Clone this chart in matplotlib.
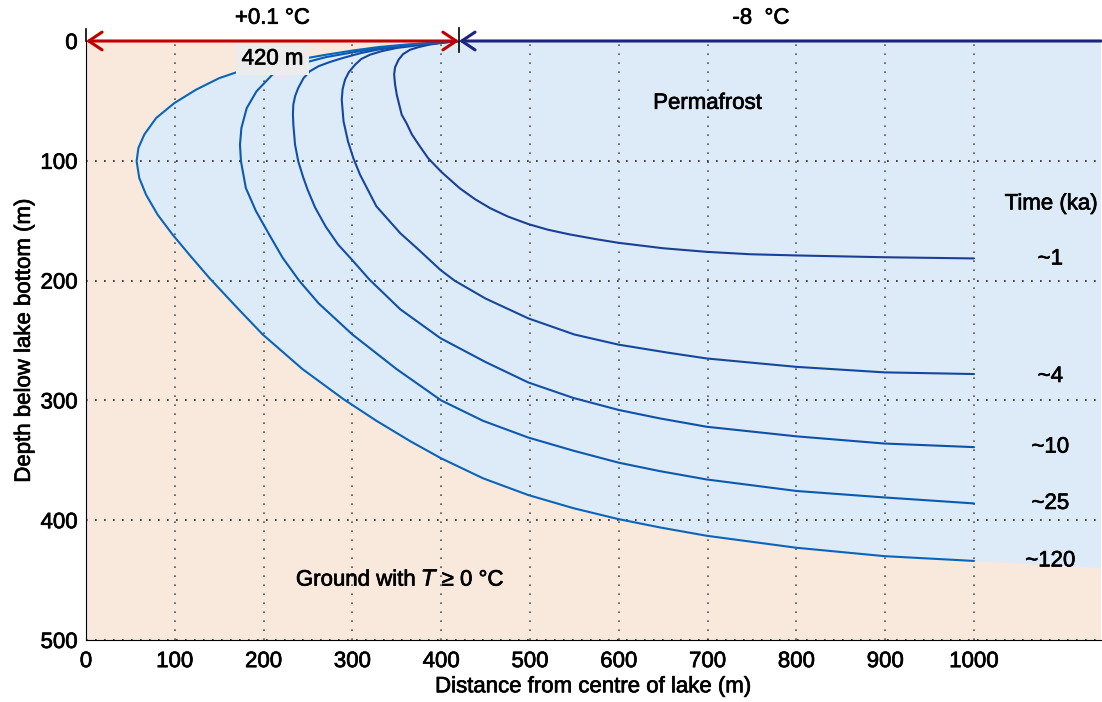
import numpy as np
import matplotlib
matplotlib.use("Agg")
import matplotlib.pyplot as plt
import matplotlib.patheffects as pe
from matplotlib.text import Text

plt.rcParams['font.family'] = ['Liberation Sans', 'DejaVu Sans']
plt.rcParams['font.size'] = 16

# 0 degC isotherm around the lake, distance (m) vs depth (m), one per time step
labels = ['~1', '~4', '~10', '~25', '~120']

x_1 = [420, 400, 387, 375, 365, 357, 352, 348, 347, 348, 350, 355.5, 361, 367, 376, 385.5, 400.5,
       421, 438, 455, 475, 498, 520, 545, 575, 600, 650, 699, 748, 800, 899, 1000]
d_1 = [0, 1.5, 3, 5, 7.3, 11, 15.6, 22, 28, 36, 45, 61.5, 68.7, 78, 88, 98, 109.5,
       123, 132, 139.5, 146.5, 152.8, 157.5, 161.5, 165.5, 168.5, 173, 176, 178, 179, 180.5, 181.5]

x_4 = [420, 395, 375, 350, 333, 320, 310, 303, 296, 291.7, 289, 288, 289, 290, 295, 301, 308.6,
       327, 354, 375, 399, 415, 450, 498, 550, 600, 654, 699, 800, 899, 1000]
d_4 = [0, 2, 3.5, 5.8, 8.5, 11.4, 15, 19.8, 26, 32.3, 40, 49, 58, 67, 83.7, 97.7, 111.6,
       138, 160.5, 174.5, 191, 200, 215, 231.5, 245, 253.5, 260, 265, 272, 276.6, 278]

x_10 = [420, 390, 360, 330, 310, 290, 274.8, 262, 252, 245, 239, 235.5, 233.5, 233, 233.5, 235.4,
        239, 244.7, 249.5, 258, 270, 284, 300, 319, 354, 399, 450, 498, 549, 600, 646, 699, 800, 899, 1000]
d_10 = [0, 2, 4, 7, 10, 14, 17.5, 21, 25.3, 31, 39.2, 46, 53, 61, 69.8, 86.5,
        100.4, 114, 124, 139, 155, 170, 183, 199, 224, 248, 268, 285, 298, 308, 315, 322, 330, 336, 339]

x_25 = [420, 390, 360, 330, 300, 270, 244.7, 210, 192, 181, 175, 173.4, 174.5, 180, 191.4, 206.4,
        221.5, 240, 262, 300, 350, 400, 447, 498, 549, 600, 646, 699, 800, 899, 1000]
d_25 = [0, 1.7, 3.5, 6, 9.5, 13.5, 18.4, 28, 42, 56, 72.6, 86.5, 100.4, 122.7, 142, 161.7,
        181, 200, 219, 245, 274, 300, 317, 331, 342, 352, 359, 366, 375.6, 381, 386]

x_120 = [420, 390, 360, 330, 300, 270, 244.7, 210, 172.7, 150, 124, 99.5, 79, 65.7, 59, 57, 60,
         67.6, 80.7, 97.6, 116.4, 138.9, 170, 199, 244, 290, 327, 365, 399, 447, 498, 549, 599,
         646, 699, 800, 899, 1000]
d_120 = [0, 1.5, 3, 5, 8, 11.5, 14.8, 19.5, 25.3, 31, 40.6, 51.8, 64.3, 78, 89.3, 100.4, 114.4,
         128.3, 145, 161.7, 178.4, 197.8, 222.5, 245, 274, 299, 317, 334, 348, 365, 379, 390, 399,
         406, 413, 423, 430, 434]

curves_x = [x_1, x_4, x_10, x_25, x_120]
curves_d = [d_1, d_4, d_10, d_25, d_120]
colors = ['#1a3f96', '#15479f', '#1050a8', '#0c59b0', '#0a64b9']

lake_edge = 420
x_max = 1143
base_far = 440   # permafrost base at the right-hand edge

fig = plt.figure(figsize=(11.02, 7.02), dpi=100)
ax = fig.add_axes([86 / 1102, 62 / 702, 1015 / 1102, 599 / 702])
ax.set_xlim(0, x_max)
ax.set_ylim(500, 0)

# unfrozen ground in the background, permafrost on top of it
ax.set_facecolor('#f9e8dc')
px = list(x_120) + [x_max, x_max]
py = list(d_120) + [base_far, 0]
ax.fill(px, py, color='#ddebf8', lw=0, zorder=1)

for xs, ds, c in zip(curves_x, curves_d, colors):
    ax.plot(xs, ds, color=c, lw=1.5, zorder=3, solid_joinstyle='round', solid_capstyle='round')

ax.set_xticks(np.arange(0, 1001, 100))
ax.set_yticks(np.arange(0, 501, 100))
ax.tick_params(length=0)
ax.tick_params(axis='x', pad=8)
ax.tick_params(axis='y', pad=6)
ax.grid(True, color='#555555', lw=1.2, linestyle=(0, (1.0, 4.4)), zorder=2)
ax.set_axisbelow(False)
for gl in ax.get_ygridlines():
    gl.set_color('#222222')
ax.spines['top'].set_visible(False)
ax.spines['right'].set_visible(False)
ax.spines['left'].set_zorder(5)
ax.spines['bottom'].set_zorder(5)

ax.set_xlabel('Distance from centre of lake (m)', labelpad=3)
ax.set_ylabel('Depth below lake bottom (m)', labelpad=4)

# lake bottom (+0.1 degC) and land surface (-8 degC)
ax.annotate('', xy=(0, 0), xytext=(lake_edge, 0),
            arrowprops=dict(arrowstyle='<->,head_length=0.6,head_width=0.4',
                            color='#c00000', lw=2.2, shrinkA=0, shrinkB=0),
            annotation_clip=False, zorder=6)
ax.annotate('', xy=(lake_edge, 0), xytext=(x_max, 0),
            arrowprops=dict(arrowstyle='->,head_length=0.6,head_width=0.4',
                            color='#1f2380', lw=2.2, shrinkA=0, shrinkB=0),
            annotation_clip=False, zorder=5)
ax.plot([lake_edge, lake_edge], [-11, 9], color='black', lw=1.2, clip_on=False, zorder=7)
ax.plot([0, 0], [-10, 0], color='black', lw=1.2, clip_on=False, zorder=7)

ax.text(lake_edge / 2, -19, '+0.1 °C', ha='center', va='center')
ax.text(760, -19, '-8  °C', ha='center', va='center')

ax.text(210, 15, '420 m', ha='center', va='center', zorder=8,
        bbox=dict(boxstyle='square,pad=0.25', fc='#ececec', ec='none'))
ax.text(700, 52, 'Permafrost', ha='center', va='center', zorder=8)
ax.text(354, 450, 'Ground with $\\mathit{T}$ ≥ 0 °C', ha='center', va='center', zorder=8)

ax.text(1087, 136, 'Time (ka)', ha='center', va='center', zorder=8)
label_y = [182, 280, 339, 386, 434]
for lab, yy in zip(labels, label_y):
    ax.text(1086, yy, lab, ha='center', va='center', zorder=8)

# slightly heavier strokes on all the lettering
for t in fig.findobj(Text):
    t.set_path_effects([pe.withStroke(linewidth=0.5, foreground='black')])

fig.savefig('out.png', dpi=100)
